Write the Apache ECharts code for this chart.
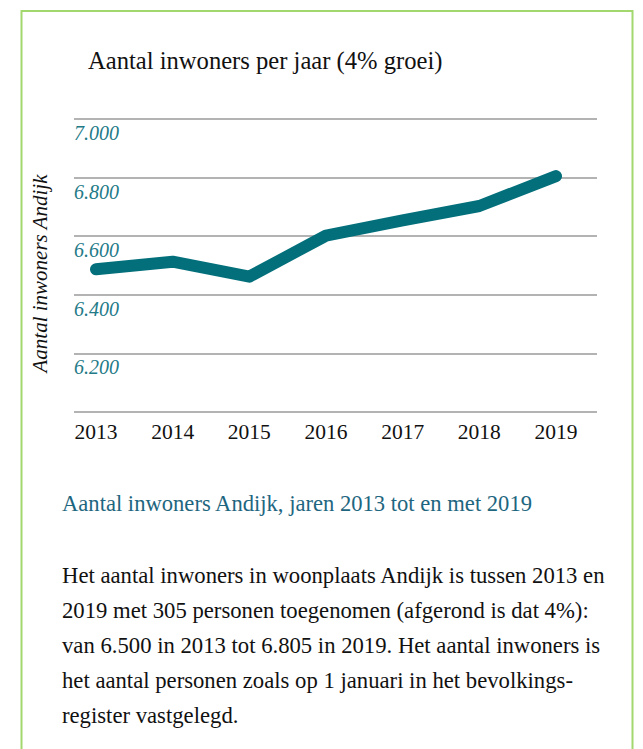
<!DOCTYPE html>
<html>
<head>
<meta charset="utf-8">
<script src="https://cdn.jsdelivr.net/npm/echarts@6/dist/echarts.min.js"></script>
<style>
  html, body { margin: 0; padding: 0; background: #fff; }
  #main { width: 643px; height: 749px; }
</style>
</head>
<body>
<div id="main"></div>
<script>
// data
var years = [2013, 2014, 2015, 2016, 2017, 2018, 2019];
var inwoners = [6487, 6513, 6462, 6602, 6654, 6703, 6805];

var titel = 'Aantal inwoners per jaar (4% groei)';
var yNaam = 'Aantal inwoners Andijk';
var onderschrift = 'Aantal inwoners Andijk, jaren 2013 tot en met 2019';
var tekstRegels = [
  'Het aantal inwoners in woonplaats Andijk is tussen 2013 en',
  '2019 met 305 personen toegenomen (afgerond is dat 4%):',
  'van 6.500 in 2013 tot 6.805 in 2019. Het aantal inwoners is',
  'het aantal personen zoals op 1 januari in het bevolkings-',
  'register vastgelegd.'
];

var serif = '"Liberation Serif", "DejaVu Serif", serif';
var teal = '#026f7a';

function nl(v) {
  return String(v).replace(/\B(?=(\d{3})+$)/, '.');
}

var myChart = echarts.init(document.getElementById('main'), null, { renderer: 'svg' });

var option = {
  backgroundColor: '#fff',
  animation: false,
  grid: { left: 74, right: 46, top: 119, bottom: 337 },
  xAxis: {
    type: 'value',
    min: 2012.713,
    max: 2019.535,
    splitLine: { show: false },
    axisLine: { show: false },
    axisTick: { show: false },
    axisLabel: {
      customValues: years,
      margin: 9,
      color: '#111',
      fontFamily: serif,
      fontSize: 21.5,
      formatter: function (v) { return String(v); }
    }
  },
  yAxis: {
    type: 'value',
    min: 6000,
    max: 7000,
    interval: 200,
    name: yNaam,
    nameLocation: 'middle',
    nameGap: 24,
    nameTextStyle: {
      color: '#111',
      fontFamily: serif,
      fontStyle: 'italic',
      fontSize: 21,
      padding: [0, 16, 0, 0]
    },
    axisLine: { show: false },
    axisTick: { show: false },
    splitLine: { lineStyle: { color: '#9a9a9a', width: 1.5 } },
    axisLabel: {
      inside: true,
      showMinLabel: false,
      margin: 0,
      align: 'left',
      verticalAlign: 'top',
      padding: [4, 0, 0, 0],
      color: '#237a87',
      fontFamily: serif,
      fontStyle: 'italic',
      fontSize: 20,
      formatter: function (v) { return nl(v); }
    }
  },
  series: [{
    type: 'line',
    data: years.map(function (y, i) { return [y, inwoners[i]]; }),
    symbol: 'none',
    lineStyle: { color: teal, width: 12, cap: 'round', join: 'round' }
  }],
  graphic: [
    {
      type: 'rect',
      shape: { x: 21.5, y: 11, width: 611, height: 760 },
      style: { fill: 'none', stroke: '#a3d86f', lineWidth: 2 },
      silent: true
    },
    {
      type: 'text',
      left: 88,
      top: 48,
      style: { text: titel, fill: '#111', font: '24.6px ' + serif }
    },
    {
      type: 'text',
      left: 62,
      top: 492,
      style: { text: onderschrift, fill: '#1e6680', font: '22.6px ' + serif }
    },
    {
      type: 'text',
      left: 62,
      top: 558,
      style: {
        text: tekstRegels.join('\n'),
        fill: '#111',
        font: '22.7px ' + serif,
        lineHeight: 35
      }
    }
  ]
};

myChart.setOption(option);
window.onresize = myChart.resize;
</script>
</body>
</html>
